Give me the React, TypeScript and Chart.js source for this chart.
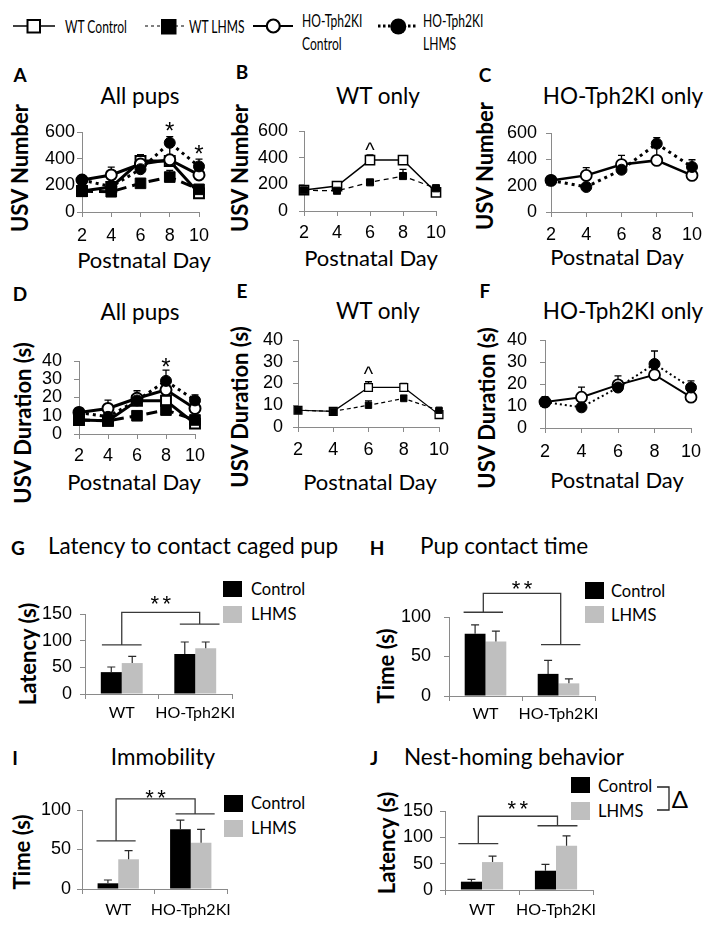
import React, { useEffect, useRef } from 'react';
import { Chart, registerables } from 'chart.js';
Chart.register(...registerables);

// ---------------- data ----------------
const days = ['2', '4', '6', '8', '10'];

const usvMax = 600;
const usvStep = 200;
const usvWtControl = [157, 187, 382, 382, 140];
const usvWtControlErr = [10, 12, 38, 25, 15];
const usvWtLhms = [155, 152, 215, 262, 170];
const usvWtLhmsErr = [10, 10, 15, 50, 25];
const usvHoControl = [240, 278, 360, 392, 278];
const usvHoControlErr = [10, 59, 70, 120, 15];
const usvHoLhms = [240, 190, 321, 519, 342];
const usvHoLhmsErr = [10, 15, 20, 46, 55];

const durMax = 40;
const durStep = 10;
const durWtControl = [7.7, 7.2, 18.2, 18.2, 5.7];
const durWtControlErr = [0.5, 0.5, 2.6, 1.8, 0.8];
const durWtLhms = [7.7, 7.2, 10, 13.1, 7.7];
const durWtLhmsErr = [0.5, 0.5, 2, 1.5, 0.8];
const durHoControl = [11.8, 14, 19.6, 24.2, 14];
const durHoControlErr = [2.5, 4.6, 4.1, 4.5, 1.5];
const durHoLhms = [11.8, 9.4, 18.4, 29.1, 18.4];
const durHoLhmsErr = [1, 1, 1.5, 5.9, 3];

// significance marks (day index, value, symbol)
const usvAllMarkIdx = [3, 4];
const usvAllMarkVal = [652, 478];
const usvAllMarkTxt = ['*', '*'];
const usvWtMarkIdx = [2];
const usvWtMarkVal = [488];
const usvWtMarkTxt = ['^'];
const durAllMarkIdx = [3];
const durAllMarkVal = [39.6];
const durAllMarkTxt = ['*'];
const durWtMarkIdx = [2];
const durWtMarkVal = [26];
const durWtMarkTxt = ['^'];

const groups = ['WT', 'HO-Tph2KI'];

const latencyMax = 150;
const latencyControl = [41, 75];
const latencyControlErr = [9.6, 22.5];
const latencyLhms = [58, 86];
const latencyLhmsErr = [12.6, 11.5];
const latencyBracket = [92, 131, 153];

const contactMax = 100;
const contactControl = [78.8, 28];
const contactControlErr = [11.2, 17];
const contactLhms = [69, 16];
const contactLhmsErr = [13, 5.6];
const contactBracket = [106, 65, 130];

const immobMax = 100;
const immobControl = [7.2, 75.5];
const immobControlErr = [4.2, 11.8];
const immobLhms = [37.6, 58.6];
const immobLhmsErr = [10.9, 16.9];
const immobBracket = [61, 95, 114];

const nestMax = 150;
const nestControl = [15.8, 36.6];
const nestControlErr = [4.2, 11.9];
const nestLhms = [53, 83.8];
const nestLhmsErr = [11.3, 18.9];
const nestBracket = [88, 122, 140];

// ---------------- styles ----------------
const AXIS = '#8a8a8a';
const LATO = 'Lato, "Open Sans", sans-serif';
const ARIAL = '"Liberation Sans", Arial, sans-serif';
const PAD = { l: 70, t: 45, r: 30, b: 45 };

type Sty = { w: number; dash: number[]; shape: string; r: number; fill: string; pw: number };

function ds(values: number[], errs: number[], s: Sty) {
  return {
    data: values,
    errs,
    borderColor: '#000',
    borderWidth: s.w,
    borderDash: s.dash,
    borderCapStyle: 'butt',
    pointStyle: s.shape,
    pointRadius: s.r,
    pointHoverRadius: s.r,
    pointBackgroundColor: s.fill,
    pointBorderColor: '#000',
    pointBorderWidth: s.pw,
    fill: false,
    tension: 0,
    clip: false,
  };
}

const lineErrPlugin = {
  id: 'lineErr',
  beforeDatasetsDraw(chart: any) {
    const ctx = chart.ctx;
    const y = chart.scales.y;
    ctx.save();
    ctx.strokeStyle = '#000';
    ctx.lineWidth = 1.3;
    chart.data.datasets.forEach((d: any, i: number) => {
      const meta = chart.getDatasetMeta(i);
      (d.errs || []).forEach((e: number, j: number) => {
        const p = meta.data[j];
        const top = y.getPixelForValue(d.data[j] + e);
        ctx.beginPath();
        ctx.moveTo(p.x, p.y);
        ctx.lineTo(p.x, top);
        ctx.moveTo(p.x - 3.5, top);
        ctx.lineTo(p.x + 3.5, top);
        ctx.stroke();
      });
    });
    ctx.restore();
  },
};

function markPlugin(idx: number[], vals: number[], txt: string[], size: number) {
  return {
    id: 'marks',
    afterDatasetsDraw(chart: any) {
      const ctx = chart.ctx;
      ctx.save();
      ctx.fillStyle = '#000';
      ctx.font = `${size}px ${ARIAL}`;
      ctx.textAlign = 'center';
      ctx.textBaseline = 'alphabetic';
      idx.forEach((k, n) => {
        const x = chart.scales.x.getPixelForValue(k);
        const yy = chart.scales.y.getPixelForValue(vals[n]);
        const off = txt[n] === '^' ? 0.53 : 0.57;
        ctx.fillText(txt[n], x, yy + size * off);
      });
      ctx.restore();
    },
  };
}

function axisOpts(pad: number, font: any) {
  return {
    grid: { display: true, drawOnChartArea: false, drawTicks: true, tickLength: 5, color: AXIS, lineWidth: 1 },
    border: { display: true, color: AXIS, width: 1 },
    ticks: { color: '#000', font, padding: pad, autoSkip: false, maxRotation: 0 },
  };
}

function lineConfig(o: {
  series: any[];
  yMax: number;
  yStep: number;
  yPad: number;
  xPad: number;
  marks?: any;
}) {
  const xa: any = axisOpts(o.xPad, { family: ARIAL, size: 18 });
  xa.grid.offset = false;
  const ya: any = axisOpts(o.yPad, { family: ARIAL, size: 18 });
  ya.ticks.stepSize = o.yStep;
  const plugins: any[] = [lineErrPlugin];
  if (o.marks) plugins.push(o.marks);
  return {
    type: 'line',
    data: { labels: days, datasets: o.series },
    options: {
      animation: false,
      responsive: false,
      maintainAspectRatio: false,
      events: [],
      layout: { padding: { left: 0, top: PAD.t, right: PAD.r, bottom: 0 } },
      plugins: { legend: { display: false }, tooltip: { enabled: false }, title: { display: false } },
      scales: {
        x: { type: 'category', offset: false, ...xa, afterFit: (s: any) => { s.height = PAD.b; } },
        y: { type: 'linear', min: 0, max: o.yMax, ...ya, afterFit: (s: any) => { s.width = PAD.l; } },
      },
    },
    plugins,
  };
}

function barPlugin(br: number[], offs: number[], starGap: number) {
  return {
    id: 'barExtras',
    afterDatasetsDraw(chart: any) {
      const ctx = chart.ctx;
      const x = chart.scales.x;
      const y = chart.scales.y;
      ctx.save();
      ctx.strokeStyle = '#2a2a2a';
      ctx.lineWidth = 1.2;
      chart.data.datasets.forEach((d: any, i: number) => {
        const meta = chart.getDatasetMeta(i);
        (d.errs || []).forEach((e: number, j: number) => {
          const el = meta.data[j];
          const top = y.getPixelForValue(d.data[j] + e);
          ctx.beginPath();
          ctx.moveTo(el.x, el.y);
          ctx.lineTo(el.x, top);
          ctx.moveTo(el.x - 4, top);
          ctx.lineTo(el.x + 4, top);
          ctx.stroke();
        });
      });
      const cw = (x.right - x.left) / 2;
      const cx0 = x.getPixelForValue(0) + offs[0] * cw;
      const cx1 = x.getPixelForValue(1) + offs[1] * cw;
      const hw = 0.27 * cw;
      const y0 = y.getPixelForValue(br[0]);
      const y1 = y.getPixelForValue(br[1]);
      const yt = y.getPixelForValue(br[2]);
      ctx.strokeStyle = '#3a3a3a';
      ctx.lineWidth = 1.3;
      ctx.beginPath();
      ctx.moveTo(cx0 - hw, y0);
      ctx.lineTo(cx0 + hw, y0);
      ctx.moveTo(cx1 - hw, y1);
      ctx.lineTo(cx1 + hw, y1);
      ctx.moveTo(cx0, y0);
      ctx.lineTo(cx0, yt);
      ctx.lineTo(cx1, yt);
      ctx.lineTo(cx1, y1);
      ctx.stroke();
      ctx.fillStyle = '#000';
      const fs = 22;
      ctx.font = `${fs}px ${ARIAL}`;
      ctx.textAlign = 'center';
      ctx.textBaseline = 'alphabetic';
      const mx = (cx0 + cx1) / 2;
      const sy = yt - starGap;
      ctx.fillText('*', mx - 6, sy + fs * 0.57);
      ctx.fillText('*', mx + 6, sy + fs * 0.57);
      ctx.restore();
    },
  };
}

function barConfig(o: {
  control: number[];
  controlErr: number[];
  lhms: number[];
  lhmsErr: number[];
  yMax: number;
  yPad: number;
  xPad: number;
  bracket: number[];
  offs: number[];
  starGap: number;
}) {
  const xa: any = axisOpts(o.xPad, { family: LATO, size: 16 });
  xa.grid.offset = true;
  const ya: any = axisOpts(o.yPad, { family: ARIAL, size: 18 });
  ya.ticks.stepSize = 50;
  const common = { categoryPercentage: 0.57, barPercentage: 1, borderWidth: 0 };
  return {
    type: 'bar',
    data: {
      labels: groups,
      datasets: [
        { data: o.control, errs: o.controlErr, backgroundColor: '#000000', ...common },
        { data: o.lhms, errs: o.lhmsErr, backgroundColor: '#bfbfbf', ...common },
      ],
    },
    options: {
      animation: false,
      responsive: false,
      maintainAspectRatio: false,
      events: [],
      layout: { padding: { left: 0, top: PAD.t, right: PAD.r, bottom: 0 } },
      plugins: { legend: { display: false }, tooltip: { enabled: false }, title: { display: false } },
      scales: {
        x: { type: 'category', offset: true, ...xa, afterFit: (s: any) => { s.height = PAD.b; } },
        y: { type: 'linear', min: 0, max: o.yMax, ...ya, afterFit: (s: any) => { s.width = PAD.l; } },
      },
    },
    plugins: [barPlugin(o.bracket, o.offs, o.starGap)],
  };
}

type Area = { l: number; t: number; r: number; b: number };

function ChartBox({ area, build }: { area: Area; build: () => any }) {
  const ref = useRef<HTMLCanvasElement>(null);
  const left = area.l - PAD.l;
  const top = area.t - PAD.t;
  const w = area.r - area.l + PAD.l + PAD.r;
  const h = area.b - area.t + PAD.t + PAD.b;
  useEffect(() => {
    const c = new Chart(ref.current as HTMLCanvasElement, build());
    return () => c.destroy();
  }, []);
  return (
    <canvas
      ref={ref}
      width={w}
      height={h}
      style={{ position: 'absolute', left, top, width: w, height: h }}
    />
  );
}

function T(p: {
  x: number;
  y: number;
  s: string;
  size: number;
  bold?: boolean;
  anchor?: 'center' | 'left';
  rot?: boolean;
  sx?: number;
  family?: string;
}) {
  const anchor = p.anchor || 'center';
  let transform = anchor === 'center' ? 'translate(-50%, -50%)' : 'translate(0, -50%)';
  if (p.rot) transform += ' rotate(-90deg)';
  if (p.sx) transform += ` scaleX(${p.sx})`;
  return (
    <div
      style={{
        position: 'absolute',
        left: p.x,
        top: p.y,
        fontSize: p.size,
        fontWeight: p.bold ? 700 : 400,
        fontFamily: p.family || LATO,
        lineHeight: 1,
        whiteSpace: 'nowrap',
        color: '#000',
        transform,
        transformOrigin: anchor === 'left' ? 'left center' : 'center',
      }}
    >
      {p.s}
    </div>
  );
}

// styles of series
const thickWtC: Sty = { w: 3, dash: [], shape: 'rect', r: 7, fill: '#fff', pw: 2 };
const thickWtL: Sty = { w: 3, dash: [11, 6], shape: 'rect', r: 7.5, fill: '#000', pw: 1 };
const thickHoC: Sty = { w: 3, dash: [], shape: 'circle', r: 5.5, fill: '#fff', pw: 2 };
const thickHoL: Sty = { w: 3, dash: [3, 4], shape: 'circle', r: 5.5, fill: '#000', pw: 1 };

const bWtC: Sty = { w: 1.5, dash: [], shape: 'rect', r: 6.5, fill: '#fff', pw: 1.5 };
const bWtL: Sty = { w: 1.3, dash: [5, 4], shape: 'rect', r: 5, fill: '#000', pw: 1 };
const cHoC: Sty = { w: 2.5, dash: [], shape: 'circle', r: 5.5, fill: '#fff', pw: 1.8 };
const cHoL: Sty = { w: 3, dash: [3, 4], shape: 'circle', r: 5.5, fill: '#000', pw: 1 };
const eWtC: Sty = { w: 1.2, dash: [], shape: 'rect', r: 5.5, fill: '#fff', pw: 1.3 };
const eWtL: Sty = { w: 1.2, dash: [4, 3], shape: 'rect', r: 4.5, fill: '#000', pw: 1 };
const fHoC: Sty = { w: 2, dash: [], shape: 'circle', r: 5.5, fill: '#fff', pw: 1.8 };
const fHoL: Sty = { w: 2, dash: [2, 3], shape: 'circle', r: 5.5, fill: '#000', pw: 1 };

function Decor() {
  return (
    <svg width={714} height={930} style={{ position: 'absolute', left: 0, top: 0 }}>
      {/* top legend */}
      <line x1={13} y1={26} x2={55} y2={26} stroke="#000" strokeWidth={1.5} />
      <rect x={27.5} y={20} width={12.5} height={12.5} fill="#fff" stroke="#000" strokeWidth={2} />
      <line x1={145} y1={26} x2={187} y2={26} stroke="#000" strokeWidth={1.2} strokeDasharray="3,3" />
      <rect x={161} y={19} width={15.5} height={15.5} fill="#000" />
      <line x1={253} y1={26} x2={293} y2={26} stroke="#000" strokeWidth={2} />
      <circle cx={273.3} cy={26} r={6.5} fill="#fff" stroke="#000" strokeWidth={2.2} />
      <line x1={378} y1={26} x2={418} y2={26} stroke="#000" strokeWidth={3} strokeDasharray="2.5,2.5" />
      <circle cx={398.3} cy={26.5} r={8} fill="#000" />
      {/* bar legends */}
      <rect x={223} y={581} width={19} height={16} fill="#000" />
      <rect x={223} y={606} width={19} height={17} fill="#bfbfbf" />
      <rect x={585} y={582} width={19} height={17} fill="#000" />
      <rect x={585} y={606} width={19} height={17} fill="#bfbfbf" />
      <rect x={224} y={795} width={19} height={17} fill="#000" />
      <rect x={224} y={820} width={19} height={17} fill="#bfbfbf" />
      <rect x={571} y={777} width={19} height={16} fill="#000" />
      <rect x={571} y={802} width={19} height={18} fill="#bfbfbf" />
      <polyline points="657,787 669,787 669,810 657,810" fill="none" stroke="#222" strokeWidth={1.3} />
    </svg>
  );
}

export default function App() {
  const TS = 22.5;
  const AX = 22;
  const LET = 19;
  return (
    <div
      style={{
        position: 'absolute',
        left: 0,
        top: 0,
        width: 714,
        height: 930,
        background: '#fff',
        overflow: 'hidden',
      }}
    >
      <Decor />
      {/* top legend texts */}
      <T x={65} y={26} s="WT Control" size={17} anchor="left" sx={0.71} />
      <T x={189} y={26} s="WT LHMS" size={17} anchor="left" sx={0.71} />
      <T x={302} y={20} s="HO-Tph2KI" size={17} anchor="left" sx={0.71} />
      <T x={302} y={43} s="Control" size={17} anchor="left" sx={0.71} />
      <T x={423} y={20} s="HO-Tph2KI" size={17} anchor="left" sx={0.71} />
      <T x={423} y={43} s="LHMS" size={17} anchor="left" sx={0.71} />

      {/* panel letters */}
      <T x={20} y={74} s="A" size={LET} bold />
      <T x={242} y={71} s="B" size={LET} bold />
      <T x={485} y={74} s="C" size={LET} bold />
      <T x={20} y={293} s="D" size={LET} bold />
      <T x={242} y={290} s="E" size={LET} bold />
      <T x={485} y={290} s="F" size={LET} bold />
      <T x={18} y={547} s="G" size={LET} bold />
      <T x={377} y={547} s="H" size={LET} bold />
      <T x={15} y={757} s="I" size={LET} bold />
      <T x={374} y={757} s="J" size={LET} bold />

      {/* titles */}
      <T x={140} y={96} s="All pups" size={TS} />
      <T x={378} y={96} s="WT only" size={TS} />
      <T x={623} y={96} s="HO-Tph2KI only" size={TS} />
      <T x={140} y={312} s="All pups" size={TS} />
      <T x={378} y={311} s="WT only" size={TS} />
      <T x={623} y={311} s="HO-Tph2KI only" size={TS} />
      <T x={48} y={546} s="Latency to contact caged pup" size={TS} anchor="left" />
      <T x={420} y={546} s="Pup contact time" size={TS} anchor="left" />
      <T x={163} y={757} s="Immobility" size={TS} />
      <T x={404} y={757} s="Nest-homing behavior" size={TS} anchor="left" />

      {/* y axis titles */}
      <T x={20} y={168} s="USV Number" size={AX} bold rot />
      <T x={240} y={168} s="USV Number" size={AX} bold rot />
      <T x={485} y={166} s="USV Number" size={AX} bold rot />
      <T x={23} y={423} s="USV Duration (s)" size={AX} bold rot />
      <T x={240} y={407} s="USV Duration (s)" size={AX} bold rot />
      <T x={487} y={408} s="USV Duration (s)" size={AX} bold rot />
      <T x={28} y={654} s="Latency (s)" size={AX} bold rot />
      <T x={386} y={666} s="Time (s)" size={AX} bold rot />
      <T x={22} y={852} s="Time (s)" size={AX} bold rot />
      <T x={387} y={843} s="Latency (s)" size={AX} bold rot />

      {/* x axis titles */}
      <T x={144} y={260} s="Postnatal Day" size={AX} />
      <T x={371} y={258} s="Postnatal Day" size={AX} />
      <T x={617} y={257} s="Postnatal Day" size={AX} />
      <T x={134} y={482} s="Postnatal Day" size={AX} />
      <T x={370} y={482} s="Postnatal Day" size={AX} />
      <T x={617} y={480} s="Postnatal Day" size={AX} />

      {/* bar legends */}
      <T x={251} y={589} s="Control" size={16.5} anchor="left" />
      <T x={251} y={614} s="LHMS" size={16.5} anchor="left" />
      <T x={611} y={591} s="Control" size={16.5} anchor="left" />
      <T x={611} y={615} s="LHMS" size={16.5} anchor="left" />
      <T x={251} y={803} s="Control" size={16.5} anchor="left" />
      <T x={251} y={828} s="LHMS" size={16.5} anchor="left" />
      <T x={598} y={786} s="Control" size={16.5} anchor="left" />
      <T x={598} y={811} s="LHMS" size={16.5} anchor="left" />
      <T x={680} y={799} s="Δ" size={24} />

      {/* charts */}
      <ChartBox
        area={{ l: 82, t: 132, r: 199, b: 212 }}
        build={() =>
          lineConfig({
            series: [
              ds(usvHoLhms, usvHoLhmsErr, thickHoL),
              ds(usvWtLhms, usvWtLhmsErr, thickWtL),
              ds(usvHoControl, usvHoControlErr, thickHoC),
              ds(usvWtControl, usvWtControlErr, thickWtC),
            ],
            yMax: usvMax,
            yStep: usvStep,
            yPad: 2,
            xPad: 8,
            marks: markPlugin(usvAllMarkIdx, usvAllMarkVal, usvAllMarkTxt, 24),
          })
        }
      />
      <ChartBox
        area={{ l: 304, t: 131, r: 436, b: 211 }}
        build={() =>
          lineConfig({
            series: [ds(usvWtLhms, usvWtLhmsErr, bWtL), ds(usvWtControl, usvWtControlErr, bWtC)],
            yMax: usvMax,
            yStep: usvStep,
            yPad: 11,
            xPad: 6,
            marks: markPlugin(usvWtMarkIdx, usvWtMarkVal, usvWtMarkTxt, 20),
          })
        }
      />
      <ChartBox
        area={{ l: 551, t: 133, r: 692, b: 212 }}
        build={() =>
          lineConfig({
            series: [ds(usvHoLhms, usvHoLhmsErr, cHoL), ds(usvHoControl, usvHoControlErr, cHoC)],
            yMax: usvMax,
            yStep: usvStep,
            yPad: 9,
            xPad: 7,
          })
        }
      />
      <ChartBox
        area={{ l: 79, t: 361, r: 195, b: 434 }}
        build={() =>
          lineConfig({
            series: [
              ds(durHoLhms, durHoLhmsErr, thickHoL),
              ds(durWtLhms, durWtLhmsErr, thickWtL),
              ds(durHoControl, durHoControlErr, thickHoC),
              ds(durWtControl, durWtControlErr, thickWtC),
            ],
            yMax: durMax,
            yStep: durStep,
            yPad: 12,
            xPad: 6,
            marks: markPlugin(durAllMarkIdx, durAllMarkVal, durAllMarkTxt, 24),
          })
        }
      />
      <ChartBox
        area={{ l: 298, t: 340, r: 439, b: 427 }}
        build={() =>
          lineConfig({
            series: [ds(durWtLhms, durWtLhmsErr, eWtL), ds(durWtControl, durWtControlErr, eWtC)],
            yMax: durMax,
            yStep: durStep,
            yPad: 10,
            xPad: 7,
            marks: markPlugin(durWtMarkIdx, durWtMarkVal, durWtMarkTxt, 20),
          })
        }
      />
      <ChartBox
        area={{ l: 545, t: 340, r: 691, b: 428 }}
        build={() =>
          lineConfig({
            series: [ds(durHoLhms, durHoLhmsErr, fHoL), ds(durHoControl, durHoControlErr, fHoC)],
            yMax: durMax,
            yStep: durStep,
            yPad: 13,
            xPad: 8,
          })
        }
      />
      <ChartBox
        area={{ l: 85, t: 614, r: 232, b: 694 }}
        build={() =>
          barConfig({
            control: latencyControl,
            controlErr: latencyControlErr,
            lhms: latencyLhms,
            lhmsErr: latencyLhmsErr,
            yMax: latencyMax,
            yPad: 8,
            xPad: 4,
            bracket: latencyBracket,
            offs: [0, 0.06],
            starGap: 14,
          })
        }
      />
      <ChartBox
        area={{ l: 449, t: 617, r: 595, b: 696 }}
        build={() =>
          barConfig({
            control: contactControl,
            controlErr: contactControlErr,
            lhms: contactLhms,
            lhmsErr: contactLhmsErr,
            yMax: contactMax,
            yPad: 13,
            xPad: 3,
            bracket: contactBracket,
            offs: [-0.03, 0.03],
            starGap: 10,
          })
        }
      />
      <ChartBox
        area={{ l: 82, t: 810, r: 227, b: 889 }}
        build={() =>
          barConfig({
            control: immobControl,
            controlErr: immobControlErr,
            lhms: immobLhms,
            lhmsErr: immobLhmsErr,
            yMax: immobMax,
            yPad: 6,
            xPad: 6,
            bracket: immobBracket,
            offs: [-0.03, 0.06],
            starGap: 6,
          })
        }
      />
      <ChartBox
        area={{ l: 445, t: 811, r: 593, b: 890 }}
        build={() =>
          barConfig({
            control: nestControl,
            controlErr: nestControlErr,
            lhms: nestLhms,
            lhmsErr: nestLhmsErr,
            yMax: nestMax,
            yPad: 7,
            xPad: 5,
            bracket: nestBracket,
            offs: [-0.05, 0.02],
            starGap: 13,
          })
        }
      />
    </div>
  );
}
